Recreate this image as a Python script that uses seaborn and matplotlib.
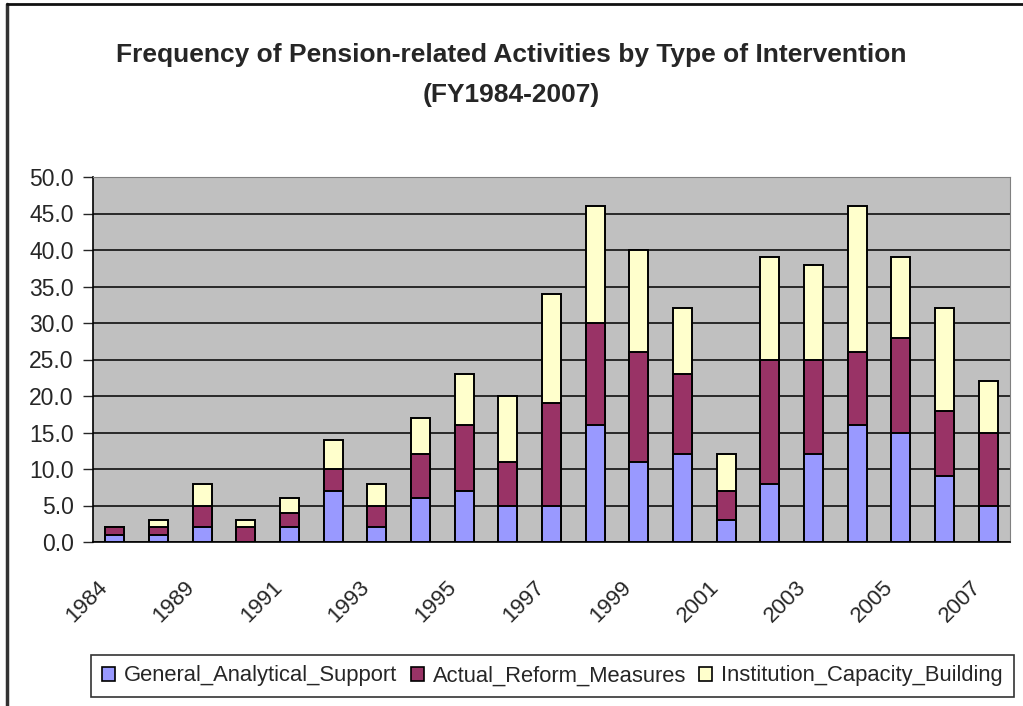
import numpy as np
import pandas as pd
import seaborn as sns
import matplotlib.pyplot as plt
from matplotlib.patches import Patch
from matplotlib.lines import Line2D
from matplotlib.ticker import FormatStrFormatter, FixedLocator
from matplotlib.transforms import ScaledTranslation

# data
years = ['1984', '1988', '1989', '1990', '1991', '1992', '1993', '1994', '1995', '1996', '1997',
         '1998', '1999', '2000', '2001', '2002', '2003', '2004', '2005', '2006', '2007']
general_support = [1, 1, 2, 0, 2, 7, 2, 6, 7, 5, 5, 16, 11, 12, 3, 8, 12, 16, 15, 9, 5]
reform_measures = [1, 1, 3, 2, 2, 3, 3, 6, 9, 6, 14, 14, 15, 11, 4, 17, 13, 10, 13, 9, 10]
capacity_building = [0, 1, 3, 1, 2, 4, 3, 5, 7, 9, 15, 16, 14, 9, 5, 14, 13, 20, 11, 14, 7]
series_names = ['General_Analytical_Support', 'Actual_Reform_Measures', 'Institution_Capacity_Building']
colors = ['#9999FF', '#993366', '#FFFFCC']

sns.set_style('white')
plt.rcParams['font.family'] = ['Liberation Sans', 'DejaVu Sans']

df = pd.DataFrame({'Year': years,
                   'g': general_support,
                   'r': reform_measures,
                   'c': capacity_building})
df['top_r'] = df['g'] + df['r']
df['top_c'] = df['top_r'] + df['c']

fig = plt.figure(figsize=(10.23, 7.06), dpi=100)
ax = fig.add_axes([93 / 1023, 164 / 706, 917 / 1023, 365 / 706])
ax.set_facecolor('#C0C0C0')

# stacked bars: draw cumulative heights, tallest first
for col, c in zip(['top_c', 'top_r', 'g'], colors[::-1]):
    sns.barplot(data=df, x='Year', y=col, order=years, color=c, saturation=1,
                width=0.43, edgecolor='black', linewidth=1.4, ax=ax, zorder=3)

ax.set_xlim(-0.5, len(years) - 0.5)
ax.set_ylim(0, 50)
ax.yaxis.set_major_locator(FixedLocator(np.arange(0, 50.1, 5)))
ax.yaxis.set_major_formatter(FormatStrFormatter('%.1f'))
ax.grid(axis='y', color='black', linewidth=1.1, zorder=1)
ax.set_axisbelow(True)
ax.set_xlabel('')
ax.set_ylabel('')

# category boundaries get tick marks, even categories get labels
ax.set_xticks(np.arange(-0.5, len(years), 1), minor=True)
ax.set_xticks(np.arange(0, len(years), 2))
ax.set_xticklabels(years[::2], rotation=45, ha='right', rotation_mode='anchor', fontsize=16)
ax.tick_params(axis='x', which='major', length=0, pad=25)
ax.tick_params(axis='x', which='minor', length=7, width=1, color='#333333', direction='out')
ax.tick_params(axis='y', length=7, width=1, direction='out', left=True, labelsize=16.5, pad=7)
shift = ScaledTranslation(-18 / 100, 0, fig.dpi_scale_trans)
for lab in ax.get_xticklabels():
    lab.set_transform(lab.get_transform() + shift)

for s in ['top', 'right']:
    ax.spines[s].set_color('#808080')
for s in ['left', 'bottom']:
    ax.spines[s].set_color('black')
    ax.spines[s].set_linewidth(1.2)

fig.text(0.5, 1 - 55 / 706, 'Frequency of Pension-related Activities by Type of Intervention',
         ha='center', va='center', fontsize=19, fontweight='bold')
fig.text(0.5, 1 - 95 / 706, '(FY1984-2007)', ha='center', va='center', fontsize=19, fontweight='bold')

handles = [Patch(facecolor=c, edgecolor='black', linewidth=1.2) for c in colors]
leg = fig.legend(handles, series_names, ncol=3, loc='center',
                 bbox_to_anchor=((93 + 1012) / 2 / 1023, 1 - 676 / 706),
                 fontsize=15.8, frameon=True, fancybox=False, handlelength=0.6, handleheight=0.6,
                 handletextpad=0.4, columnspacing=0.6, borderpad=0.5)
leg.get_frame().set_edgecolor('black')
leg.get_frame().set_linewidth(1.2)

# outer chart frame
fig.add_artist(Line2D([7 / 1023, 7 / 1023], [0, 1 - 4 / 706], color='#333333', linewidth=2.5))
fig.add_artist(Line2D([7 / 1023, 1], [1 - 4 / 706, 1 - 4 / 706], color='#111111', linewidth=2))

fig.savefig('out.png', dpi=100)
